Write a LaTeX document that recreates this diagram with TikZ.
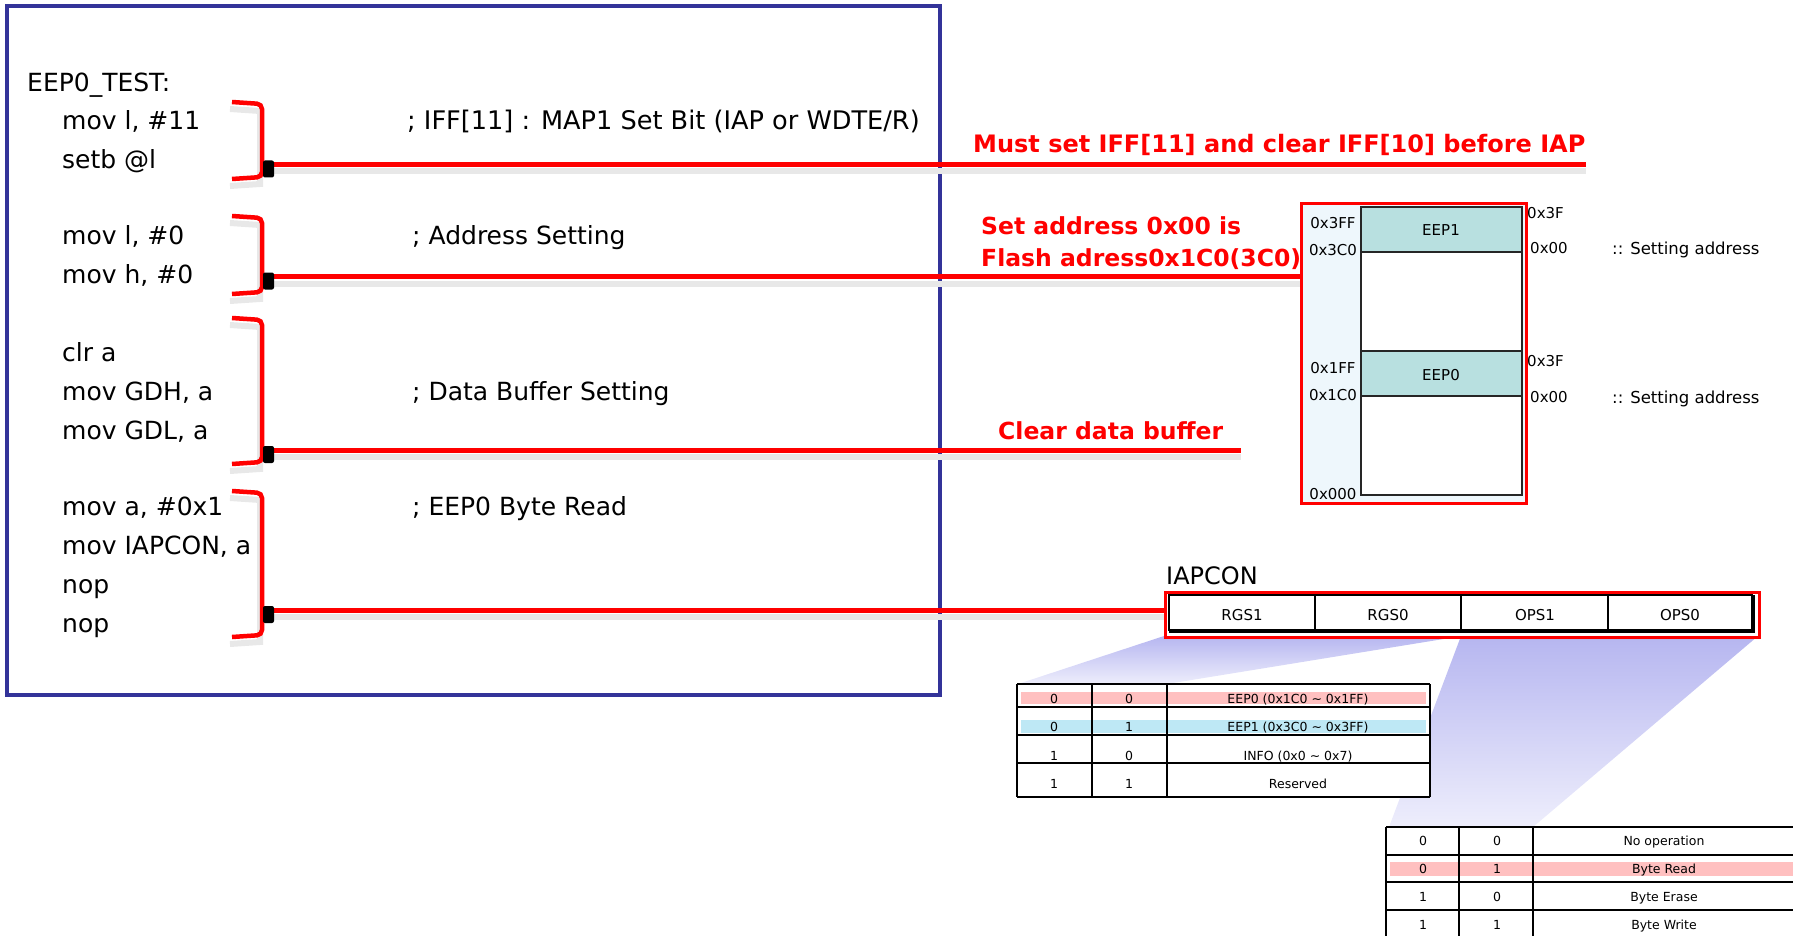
\documentclass[tikz,border=0pt]{standalone}
\usepackage{fontspec}
\setmainfont{DejaVu Sans}
\definecolor{navy}{RGB}{51,51,153}
\definecolor{tealfill}{RGB}{184,224,224}
\definecolor{memfill}{RGB}{238,247,252}
\definecolor{pinkhl}{RGB}{255,192,192}
\definecolor{bluehl}{RGB}{190,232,245}
\definecolor{wedge}{RGB}{182,182,240}
\definecolor{wedgelow}{RGB}{238,238,252}
\begin{document}
\begin{tikzpicture}[x=1pt,y=-1pt,
  code/.style={anchor=base west,inner sep=0pt,font=\fontsize{25}{30}\selectfont},
  note/.style={anchor=base west,inner sep=0pt,text=red,font=\bfseries\fontsize{23.5}{28}\selectfont},
  mem/.style={inner sep=0pt,font=\fontsize{15}{18}\selectfont,text height=11pt,text depth=0pt},
  tab/.style={inner sep=0pt,font=\fontsize{12.5}{15}\selectfont,text height=9pt,text depth=0pt},
  brk/.style={draw=red,line width=4.5pt,rounded corners=5pt},
  link/.style={draw=red,line width=5pt},
  shade line/.style={draw=black!9,line width=6pt},
  blackmark/.style={fill=black,rounded corners=2pt},
  rule/.style={draw=black,line width=1.3pt},
]
\useasboundingbox (0,0) rectangle (1793,936);

% ---------------- code box ----------------
\draw[navy,line width=4pt] (7,6) rectangle (940,695);

\node[code] (lbl) at (27,91.5) {EEP0\_TEST:};
\node[code] (c1) at (62,129.5) {mov l, \#11};
\node[code] (c2) at (62,168.5) {setb @l};
\node[code] (c3) at (62,244.5) {mov l, \#0};
\node[code] (c4) at (62,283.5) {mov h, \#0};
\node[code] (c5) at (62,361.5) {clr a};
\node[code] (c6) at (62,400.5) {mov GDH, a};
\node[code] (c7) at (62,439.5) {mov GDL, a};
\node[code] (c8) at (62,515.5) {mov a, \#0x1};
\node[code] (c9) at (62,554.5) {mov IAPCON, a};
\node[code] (c10) at (62,593.5) {nop};
\node[code] (c11) at (62,632.5) {nop};

\node[code,font=\fontsize{25.6}{30}\selectfont] (m1) at (407,129.5) {; IFF[11] : MAP1 Set Bit (IAP or WDTE/R)};
\node[code] (m2) at (412,244.5) {; Address Setting};
\node[code] (m3) at (412,400.5) {; Data Buffer Setting};
\node[code] (m4) at (412,515.5) {; EEP0 Byte Read};

% ---------------- memory map ----------------
\node[draw=red,fill=memfill,line width=3pt,anchor=north west,inner sep=0pt,
      minimum width=225pt,minimum height=300pt] (mem) at (1300,202) {};
\fill[white] (1361,207) rectangle (1522,495);
\fill[tealfill] (1361,207) rectangle (1522,252);
\fill[tealfill] (1361,351) rectangle (1522,396);
\draw[black!85,line width=1.5pt] (1361,207) rectangle (1522,495);
\draw[black!85,line width=1.5pt] (1361,252) -- (1522,252);
\draw[black!85,line width=1.5pt] (1361,351) -- (1522,351);
\draw[black!85,line width=1.5pt] (1361,396) -- (1522,396);
\node[mem] (eep1) at (1441,230) {EEP1};
\node[mem] (eep0) at (1441,375) {EEP0};
\node[mem] (a1) at (1333,223) {0x3FF};
\node[mem] (a2) at (1333,250) {0x3C0};
\node[mem] (a3) at (1333,368) {0x1FF};
\node[mem] (a4) at (1333,395) {0x1C0};
\node[mem] (a5) at (1333,494) {0x000};
\node[mem,anchor=west] (r1) at (1527,213) {0x3F};
\node[mem,anchor=west] (r2) at (1530,248) {0x00};
\node[mem,anchor=west,font=\fontsize{16.5}{19}\selectfont,text height=12pt] (s1) at (1612,248) {:: Setting address};
\node[mem,anchor=west] (r3) at (1527,361) {0x3F};
\node[mem,anchor=west] (r4) at (1530,397) {0x00};
\node[mem,anchor=west,font=\fontsize{16.5}{19}\selectfont,text height=12pt] (s2) at (1612,397) {:: Setting address};

% ---------------- wedges ----------------
\shade[top color=wedge,bottom color=wedgelow] (1164,636) -- (1462,636) -- (1167,684) -- (1018,684) -- cycle;
\shade[top color=wedge,bottom color=wedgelow] (1461,636) -- (1758,636) -- (1533,827) -- (1389,827) -- cycle;

% ---------------- IAPCON register ----------------
\node[anchor=west,inner sep=0pt,font=\fontsize{24}{28}\selectfont,text height=17.5pt,text depth=0pt] (iap) at (1166,576) {IAPCON};
\node[draw=red,fill=white,line width=3pt,anchor=north west,inner sep=0pt,
      minimum width=594pt,minimum height=45pt] (reg) at (1164,591) {};
\draw[line width=1.5pt] (1169,595) rectangle (1752,630);
\draw[line width=4pt] (1169,631) -- (1753,631) -- (1753,595);
\draw[line width=1.5pt] (1315,595) -- (1315,630);
\draw[line width=1.5pt] (1461,595) -- (1461,630);
\draw[line width=1.5pt] (1608,595) -- (1608,630);
\node[mem] (rgs1) at (1242,615) {RGS1};
\node[mem] (rgs0) at (1388,615) {RGS0};
\node[mem] (ops1) at (1535,615) {OPS1};
\node[mem] (ops0) at (1680,615) {OPS0};

% ---------------- table 1 ----------------
\fill[white] (1017,684) rectangle (1430,797);
\fill[pinkhl] (1021,692) rectangle (1426,704);
\fill[bluehl] (1021,720) rectangle (1426,733);
\foreach \yy in {684,707,735,763,797} \draw[rule] (1017,\yy) -- (1430,\yy);
\foreach \xx in {1017,1092,1167,1430} \draw[rule] (\xx,684) -- (\xx,797);
\node[tab] (t11) at (1054,699) {0};
\node[tab] (t12) at (1129,699) {0};
\node[tab] (t13) at (1298,699) {EEP0 (0x1C0 \textasciitilde{} 0x1FF)};
\node[tab] (t21) at (1054,727) {0};
\node[tab] (t22) at (1129,727) {1};
\node[tab] (t23) at (1298,727) {EEP1 (0x3C0 \textasciitilde{} 0x3FF)};
\node[tab] (t31) at (1054,756) {1};
\node[tab] (t32) at (1129,756) {0};
\node[tab] (t33) at (1298,756) {INFO (0x0 \textasciitilde{} 0x7)};
\node[tab] (t41) at (1054,784) {1};
\node[tab] (t42) at (1129,784) {1};
\node[tab] (t43) at (1298,784) {Reserved};

% ---------------- table 2 ----------------
\fill[white] (1386,827) rectangle (1793,936);
\fill[pinkhl] (1390,862) rectangle (1793,876);
\foreach \yy in {827,855,882,910} \draw[rule] (1386,\yy) -- (1793,\yy);
\foreach \xx in {1386,1459,1533} \draw[rule] (\xx,827) -- (\xx,936);
\node[tab] (u11) at (1423,841) {0};
\node[tab] (u12) at (1497,841) {0};
\node[tab] (u13) at (1664,841) {No operation};
\node[tab] (u21) at (1423,869) {0};
\node[tab] (u22) at (1497,869) {1};
\node[tab] (u23) at (1664,869) {Byte Read};
\node[tab] (u31) at (1423,897) {1};
\node[tab] (u32) at (1497,897) {0};
\node[tab] (u33) at (1664,897) {Byte Erase};
\node[tab] (u41) at (1423,925) {1};
\node[tab] (u42) at (1497,925) {1};
\node[tab] (u43) at (1664,925) {Byte Write};

% ---------------- annotations ----------------
\node[note,font=\bfseries\fontsize{24}{28}\selectfont] (n1) at (973,153) {Must set IFF[11] and clear IFF[10] before IAP};
\node[note] (n2) at (981,234) {Set address 0x00 is};
\node[note] (n3) at (981,266) {Flash adress0x1C0(3C0)};
\node[note] (n4) at (998,439) {Clear data buffer};

% ---------------- brackets and links ----------------
\coordinate (b1) at (266,164.5);
\coordinate (b2) at (266,276.5);
\coordinate (b3) at (266,450);
\coordinate (b4) at (266,610);
\coordinate (e3) at (1241,450);

\foreach \t/\b in {102/177,216/292,318/462,491/635}{
  \draw[shade line] (230,\t+7) -- (260,\t+9) -- (260,\b+7) -- (230,\b+9);
}
\draw[shade line] ([yshift=-7pt]b1) -- ([yshift=-7pt]b1 -| n1.east);
\draw[shade line] ([yshift=-7pt]b2) -- ([yshift=-7pt]b2 -| mem.west);
\draw[shade line] ([yshift=-7pt]b3) -- ([yshift=-7pt]e3);
\draw[shade line] ([yshift=-7pt]b4) -- ([yshift=-7pt]b4 -| reg.west);

\foreach \t/\b in {102/177,216/292,318/462,491/635}{
  \draw[brk] (232,\t) -- (262,\t+2) -- (262,\b) -- (232,\b+2);
}
\draw[link] (b1) -- (b1 -| n1.east);
\draw[link] (b2) -- (b2 -| mem.west);
\draw[link] (b3) -- (e3);
\draw[link] (b4) -- (b4 -| reg.west);

\foreach \c in {b1,b2,b3,b4}{
  \fill[blackmark] ([shift={(-3pt,4pt)}]\c) rectangle ([shift={(8pt,-13pt)}]\c);
}
\end{tikzpicture}
\end{document}
